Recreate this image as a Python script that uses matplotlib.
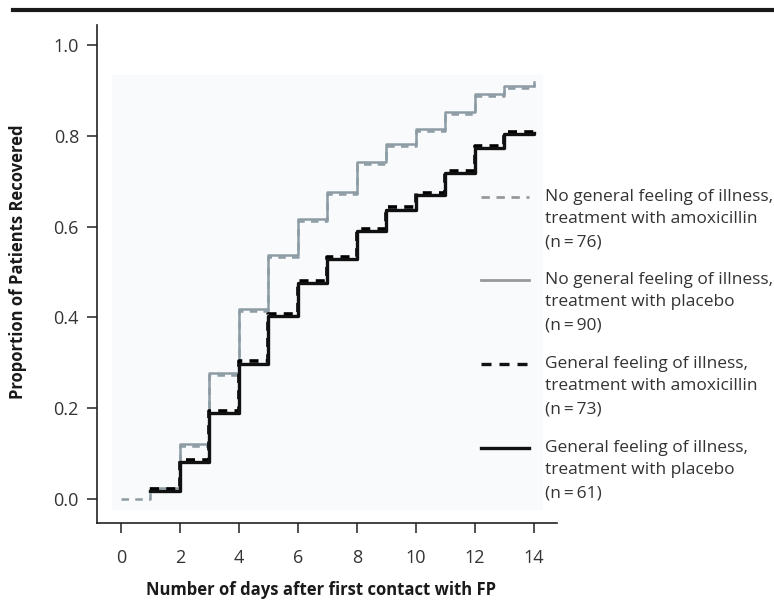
import matplotlib
matplotlib.use("Agg")
import matplotlib.pyplot as plt
from matplotlib.lines import Line2D
from matplotlib.patches import Rectangle

plt.rcParams['font.family'] = ['Open Sans', 'DejaVu Sans']

days = list(range(0, 15))
gray_amox = [0.0, 0.021, 0.116, 0.273, 0.414, 0.534, 0.613, 0.672, 0.738, 0.778, 0.81, 0.848, 0.888, 0.906, 0.914]
days_p = list(range(1, 15))
gray_plac = [0.025, 0.12, 0.277, 0.418, 0.538, 0.617, 0.676, 0.742, 0.782, 0.814, 0.852, 0.892, 0.91, 0.918]
black_amox = [0.022, 0.086, 0.193, 0.303, 0.407, 0.48, 0.533, 0.595, 0.642, 0.675, 0.722, 0.778, 0.808, 0.81]
black_plac = [0.018, 0.082, 0.19, 0.298, 0.402, 0.475, 0.528, 0.59, 0.637, 0.67, 0.717, 0.773, 0.803, 0.806]

labels = [
    ["No general feeling of illness,", "treatment with amoxicillin", "(n\u2009=\u200976)"],
    ["No general feeling of illness,", "treatment with placebo", "(n\u2009=\u200990)"],
    ["General feeling of illness,", "treatment with amoxicillin", "(n\u2009=\u200973)"],
    ["General feeling of illness,", "treatment with placebo", "(n\u2009=\u200961)"],
]
xticks = [0, 2, 4, 6, 8, 10, 12, 14]
yticks = [0.0, 0.2, 0.4, 0.6, 0.8, 1.0]

W, H = 774, 602
fig = plt.figure(figsize=(W / 100, H / 100), dpi=100)
ax = fig.add_axes([97 / W, 1 - 523 / H, 460 / W, 498 / H])
ax.set_xlim(-0.81, 14.78)
ax.set_ylim(-0.053, 1.044)

# light panel
ax.add_patch(Rectangle((-0.31, -0.024), 14.61, 0.958, facecolor='#f9fafc', edgecolor='none', zorder=0))

gray = '#8d9ca4'
ax.step(days, gray_amox, where='post', color=gray, lw=1.8, ls=(0, (3, 2.5)), zorder=2)
ax.step(days_p, gray_plac, where='post', color=gray, lw=1.8, zorder=3)
ax.step(days_p, black_amox, where='post', color='#000000', lw=2.6, ls=(0, (2.5, 2)), zorder=4)
ax.step(days_p, black_plac, where='post', color='#111111', lw=2.4, zorder=5)

ax.spines['top'].set_visible(False)
ax.spines['right'].set_visible(False)
for s in ['left', 'bottom']:
    ax.spines[s].set_linewidth(1.2)
    ax.spines[s].set_color('#222222')
ax.set_xticks(xticks)
ax.set_xticklabels([str(t) for t in xticks])
ax.set_yticks(yticks)
ax.set_yticklabels([f"{t:.1f}" for t in yticks])
ax.tick_params(axis='both', direction='out', length=7, width=1.1, color='#222222',
               labelsize=13, labelcolor='#333333')
ax.tick_params(axis='x', pad=12)
ax.tick_params(axis='y', pad=6)

fig.text(321 / W, 1 - 590 / H, "Number of days after first contact with FP", ha='center', va='center',
         fontsize=12, fontweight='bold', color='#1a1a1a')
fig.text(18 / W, 1 - 262 / H, "Proportion of Patients Recovered", ha='center', va='center',
         rotation=90, fontsize=12, fontweight='bold', color='#1a1a1a')

# top rule
fig.add_artist(Line2D([13 / W, 1.0], [1 - 10 / H, 1 - 10 / H], transform=fig.transFigure,
                      color='#1a1a1a', lw=3))

# legend
styles = [
    dict(color='#999999', lw=2.0, ls=(0, (3, 2.4))),
    dict(color='#999999', lw=2.0, ls='-'),
    dict(color='#111111', lw=2.4, ls=(0, (3, 2.4))),
    dict(color='#111111', lw=2.4, ls='-'),
]
entry_y = [197, 280, 364, 448]
for y0, st, lab in zip(entry_y, styles, labels):
    fig.add_artist(Line2D([481 / W, 529 / W], [1 - y0 / H, 1 - y0 / H], transform=fig.transFigure, **st))
    for i, line in enumerate(lab):
        fig.text(545 / W, 1 - (y0 + 22.5 * i) / H, line, ha='left', va='center',
                 fontsize=12.5, color='#333333')

fig.savefig('out.png', dpi=100)
